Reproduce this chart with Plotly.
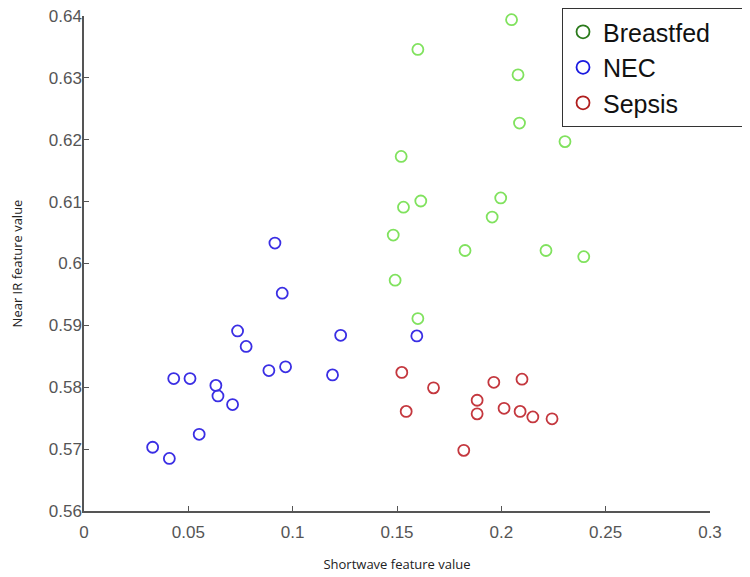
import plotly.graph_objects as go

# Breastfed
bf_x = [0.2049, 0.1600, 0.2080, 0.2087, 0.2305, 0.1520, 0.1997, 0.1614, 0.1531,
        0.1956, 0.1482, 0.1826, 0.2214, 0.2395, 0.1491, 0.1600]
bf_y = [0.6394, 0.6346, 0.6305, 0.6227, 0.6197, 0.6173, 0.6106, 0.6101, 0.6091,
        0.6075, 0.6046, 0.6021, 0.6021, 0.6011, 0.5973, 0.5911]
# NEC
nec_x = [0.0915, 0.0950, 0.0736, 0.1230, 0.1595, 0.0777, 0.0966, 0.0886, 0.1191,
         0.0430, 0.0508, 0.0632, 0.0642, 0.0712, 0.0552, 0.0329, 0.0409]
nec_y = [0.6033, 0.5952, 0.5891, 0.5884, 0.5883, 0.5866, 0.5833, 0.5827, 0.5820,
         0.5814, 0.5814, 0.5803, 0.5786, 0.5772, 0.5724, 0.5703, 0.5685]
# Sepsis
sep_x = [0.1523, 0.1675, 0.1964, 0.2099, 0.1884, 0.1544, 0.1884, 0.2013, 0.2090,
         0.2151, 0.2243, 0.1820]
sep_y = [0.5824, 0.5799, 0.5808, 0.5813, 0.5779, 0.5761, 0.5757, 0.5766, 0.5761,
         0.5752, 0.5749, 0.5698]

x_ticks = [0, 0.05, 0.1, 0.15, 0.2, 0.25, 0.3]
x_ticktext = ["0", "0.05", "0.1", "0.15", "0.2", "0.25", "0.3"]
y_ticks = [0.56, 0.57, 0.58, 0.59, 0.6, 0.61, 0.62, 0.63, 0.64]
y_ticktext = ["0.56", "0.57", "0.58", "0.59", "0.6", "0.61", "0.62", "0.63", "0.64"]

series = [
    ("Breastfed", bf_x, bf_y, "#80E25E", "#2B7A1C"),
    ("NEC", nec_x, nec_y, "#3A2EE4", "#1A1AE0"),
    ("Sepsis", sep_x, sep_y, "#C4373E", "#B01E1E"),
]

fig = go.Figure()
for name, xs, ys, c, lc in series:
    fig.add_trace(go.Scatter(
        x=xs, y=ys, mode="markers", name=name, showlegend=False, cliponaxis=False,
        marker=dict(symbol="circle-open", size=11, color=c, line=dict(width=1.8, color=c)),
    ))
for i, (name, xs, ys, c, lc) in enumerate(series):
    label = name + ("\u00a0" * 4 if i == 0 else "")
    fig.add_trace(go.Scatter(
        x=[None], y=[None], mode="markers", name=label, showlegend=True,
        marker=dict(symbol="circle-open", size=13, color=lc, line=dict(width=1.8, color=lc)),
    ))

axis_common = dict(
    showgrid=False, zeroline=False, showline=True, linecolor="#555555", linewidth=1.5,
    ticks="inside", ticklen=5, tickwidth=1.2, tickcolor="#555555",
    tickfont=dict(family="Arial, Liberation Sans, sans-serif", size=17, color="#555555"),
    mirror=False, automargin=False, ticklabeloverflow="allow",
)

# page body has an 8px default margin, so the figure is offset by 8px
fig.update_layout(
    width=750, height=577,
    margin=dict(l=76, r=48, t=8, b=74, autoexpand=False),
    paper_bgcolor="white", plot_bgcolor="white",
    xaxis=dict(range=[0, 0.3], tickvals=x_ticks, ticktext=x_ticktext,
               ticklabelstandoff=5,
               title=dict(text="Shortwave feature value", standoff=19,
                          font=dict(family="Open Sans, sans-serif", size=13, color="#222222")),
               **axis_common),
    yaxis=dict(range=[0.56, 0.64], tickvals=y_ticks, ticktext=y_ticktext,
               ticklabelstandoff=-3,
               title=dict(text="Near IR feature value", standoff=26,
                          font=dict(family="Open Sans, sans-serif", size=13, color="#222222")),
               **axis_common),
    legend=dict(x=0.7636, y=1.016, xanchor="left", yanchor="top",
                bgcolor="white", bordercolor="#333333", borderwidth=1,
                font=dict(family="Arial, Liberation Sans, sans-serif", size=25, color="#111111"),
                tracegroupgap=0),
)

fig.write_html("out.html")
